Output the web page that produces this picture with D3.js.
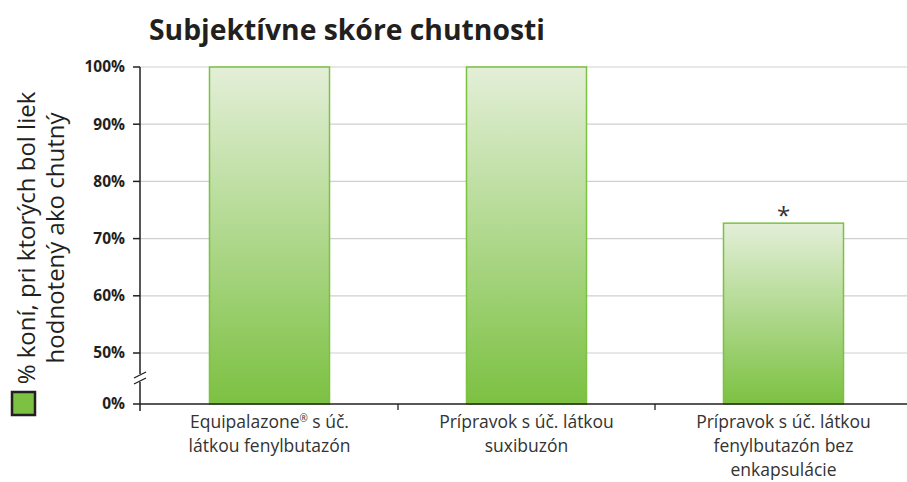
<!DOCTYPE html>
<html>
<head>
<meta charset="utf-8">
<script src="https://cdn.jsdelivr.net/npm/d3@7"></script>
<style>
  body { margin: 0; background: #fff; }
  text { font-family: "Open Sans", "Noto Sans", sans-serif; }
</style>
</head>
<body>
<script>
"use strict";

///////////////////
// data
///////////////////

var categories = [
    ["Equipalazone® s úč.", "látkou fenylbutazón"],
    ["Prípravok s úč. látkou", "suxibuzón"],
    ["Prípravok s úč. látkou", "fenylbutazón bez", "enkapsulácie"]
];
var values = [100, 100, 72.7];
var markers = ["", "", "*"];
var yTicks = [0, 50, 60, 70, 80, 90, 100];
var yLabel = ["% koní, pri ktorých bol liek", "hodnotený ako chutný"];
var title = "Subjektívne skóre chutnosti";

(function() {
    var W = 907, H = 482;
    var svg = d3.select("body").append("svg")
        .attr("width", W).attr("height", H);

    // broken axis: 0 -> 50 is squeezed
    var y = d3.scaleLinear()
        .domain([0, 50, 100])
        .range([404, 353, 67]);
    var x = d3.scaleBand()
        .domain(d3.range(values.length))
        .range([141, 912])
        .paddingInner(0.533)
        .paddingOuter(0.2665);

    // gradient for bars
    var grad = svg.append("defs").append("linearGradient")
        .attr("id", "barGrad")
        .attr("x1", 0).attr("y1", 0).attr("x2", 0).attr("y2", 1);
    grad.append("stop").attr("offset", "0%").attr("stop-color", "#e3efd8");
    grad.append("stop").attr("offset", "100%").attr("stop-color", "#7cc142");

    // title
    svg.append("text")
        .attr("x", 149).attr("y", 40)
        .attr("font-size", 28).attr("font-weight", "bold")
        .attr("fill", "#231f20")
        .attr("textLength", 396).attr("lengthAdjust", "spacingAndGlyphs")
        .text(title);

    // gridlines (50..100)
    svg.selectAll("line.grid")
        .data(yTicks.filter(function(d) { return d >= 50; }))
        .enter().append("line")
        .attr("class", "grid")
        .attr("x1", 140).attr("x2", W)
        .attr("y1", function(d) { return y(d); })
        .attr("y2", function(d) { return y(d); })
        .attr("stroke", "#cfcfcf").attr("stroke-width", 1.2);

    // bars
    svg.selectAll("rect.bar")
        .data(values)
        .enter().append("rect")
        .attr("class", "bar")
        .attr("x", function(d, i) { return x(i); })
        .attr("y", function(d) { return y(d); })
        .attr("width", x.bandwidth())
        .attr("height", function(d) { return y(0) - y(d); })
        .attr("fill", "url(#barGrad)")
        .attr("stroke", "#7cc142").attr("stroke-width", 1.5);

    svg.selectAll("text.marker")
        .data(values)
        .enter().append("text")
        .attr("class", "marker")
        .attr("x", function(d, i) { return x(i) + x.bandwidth() / 2; })
        .attr("y", function(d) { return y(d) + 1; })
        .attr("text-anchor", "middle")
        .attr("font-size", 24).attr("fill", "#333")
        .text(function(d, i) { return markers[i]; });

    // y axis
    var yAxis = svg.append("g").attr("transform", "translate(140,0)");
    yAxis.append("line")
        .attr("x1", 0).attr("x2", 0)
        .attr("y1", y(100)).attr("y2", 411)
        .attr("stroke", "#231f20").attr("stroke-width", 1.5);
    yAxis.selectAll("line.tick")
        .data(yTicks)
        .enter().append("line")
        .attr("class", "tick")
        .attr("x1", -7).attr("x2", 0)
        .attr("y1", function(d) { return y(d); })
        .attr("y2", function(d) { return y(d); })
        .attr("stroke", "#231f20").attr("stroke-width", 1.5);
    yAxis.selectAll("text.tick")
        .data(yTicks)
        .enter().append("text")
        .attr("class", "tick")
        .attr("x", -15)
        .attr("y", function(d) { return y(d); })
        .attr("dy", "0.35em")
        .attr("text-anchor", "end")
        .attr("font-size", 15.5).attr("font-weight", "bold")
        .attr("fill", "#231f20")
        .text(function(d) { return d + "%"; });

    // axis break
    var by = 378;
    yAxis.append("rect")
        .attr("x", -4).attr("y", by - 4).attr("width", 8).attr("height", 8)
        .attr("fill", "#fff");
    yAxis.selectAll("line.brk")
        .data([-3, 3])
        .enter().append("line")
        .attr("class", "brk")
        .attr("x1", -6).attr("x2", 6)
        .attr("y1", function(d) { return by + d + 3; })
        .attr("y2", function(d) { return by + d - 3; })
        .attr("stroke", "#231f20").attr("stroke-width", 1.3);

    // x axis
    svg.append("line")
        .attr("x1", 140).attr("x2", W)
        .attr("y1", y(0)).attr("y2", y(0))
        .attr("stroke", "#231f20").attr("stroke-width", 1.5);
    svg.selectAll("line.xtick")
        .data(d3.range(1, values.length + 1))
        .enter().append("line")
        .attr("class", "xtick")
        .attr("x1", function(i) { return x.range()[0] + i * x.step(); })
        .attr("x2", function(i) { return x.range()[0] + i * x.step(); })
        .attr("y1", y(0)).attr("y2", y(0) + 6)
        .attr("stroke", "#231f20").attr("stroke-width", 1.3);

    var xl = svg.selectAll("text.xlab")
        .data(categories)
        .enter().append("text")
        .attr("class", "xlab")
        .attr("text-anchor", "middle")
        .attr("font-size", 17.5).attr("fill", "#333");
    xl.selectAll("tspan.line")
        .data(function(d, i) { return d.map(function(s) { return { s: s, i: i }; }); })
        .enter().append("tspan")
        .attr("class", "line")
        .attr("x", function(d) { return x(d.i) + x.bandwidth() / 2; })
        .attr("y", function(d, j) { return 428 + j * 24; })
        .each(function(d) {
            // registered mark as a small superscript
            var parts = d.s.split("®");
            var t = d3.select(this);
            t.append("tspan").text(parts[0]);
            if (parts.length > 1) {
                t.append("tspan").attr("font-size", 10).attr("dy", -6).text("®");
                t.append("tspan").attr("dy", 6).text(parts[1]);
            }
        });

    // y label (rotated, two lines)
    svg.selectAll("text.ylab")
        .data(yLabel)
        .enter().append("text")
        .attr("class", "ylab")
        .attr("transform", function(d, i) { return "translate(" + (35 + i * 29) + ",238) rotate(-90)"; })
        .attr("text-anchor", "middle")
        .attr("font-size", 24).attr("fill", "#231f20")
        .text(function(d) { return d; });

    // legend swatch
    svg.append("rect")
        .attr("x", 12).attr("y", 392).attr("width", 23).attr("height", 23)
        .attr("fill", "#7cc142")
        .attr("stroke", "#231f20").attr("stroke-width", 2.5);
})();
</script>
</body>
</html>
